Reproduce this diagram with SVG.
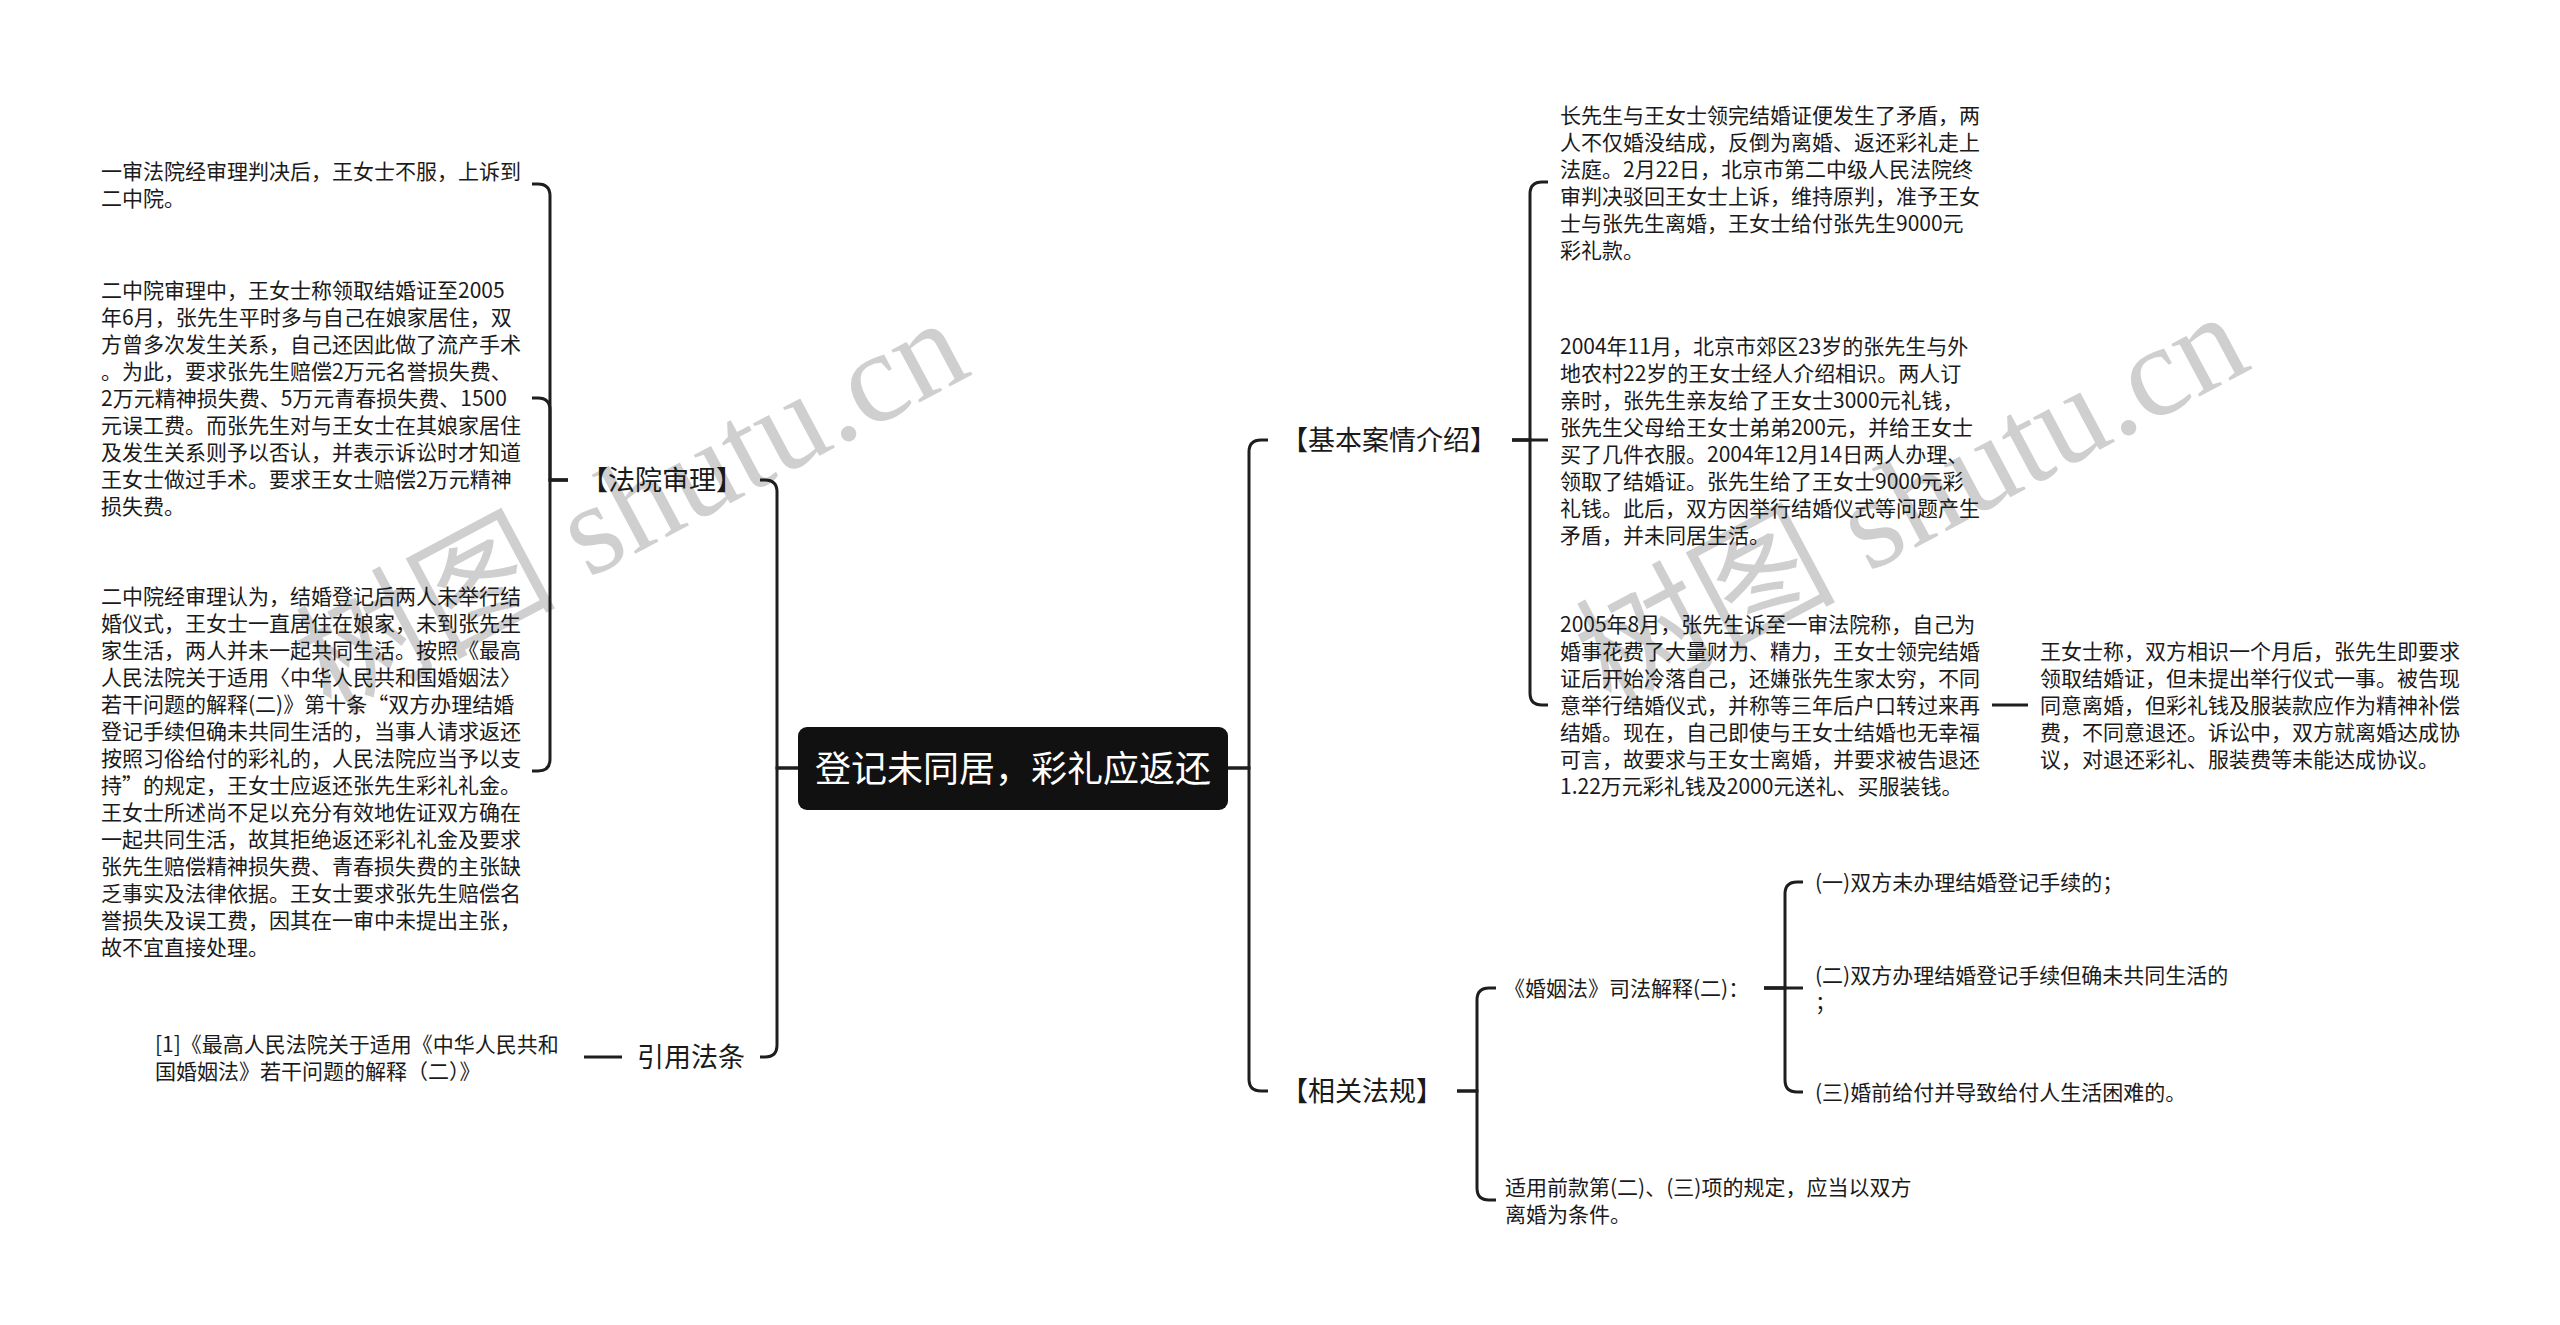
<svg xmlns="http://www.w3.org/2000/svg" width="2560" height="1325" viewBox="0 0 2560 1325">
<style>
.t{font-family:"Noto Sans CJK SC","Microsoft YaHei",sans-serif;font-size:21px;fill:#1a1a1a}
.b{font-family:"Noto Sans CJK SC","Microsoft YaHei",sans-serif;font-size:27px;fill:#1a1a1a;text-anchor:middle}
.c{font-family:"Noto Sans CJK SC","Microsoft YaHei",sans-serif;font-size:36px;fill:#ffffff;text-anchor:middle}
.wm{font-family:"Liberation Serif","Noto Sans CJK SC",serif;font-size:130px;fill:#cfcfcf}
.ln{fill:none;stroke:#1e1e1e;stroke-width:3}
</style>
<rect width="2560" height="1325" fill="#ffffff"/>
<g id="watermarks">
<text class="wm" transform="translate(330,716) rotate(-28)">树图 shutu.cn</text>
<text class="wm" transform="translate(1610,710) rotate(-28)">树图 shutu.cn</text>
</g>
<g id="connectors">
<path class="ln" d="M798,768 H777 V492 Q777,480 765,480 H760"/>
<path class="ln" d="M798,768 H777 V1045 Q777,1057 765,1057 H760"/>
<path class="ln" d="M1228,768 H1249 V452 Q1249,440 1261,440 H1268"/>
<path class="ln" d="M1228,768 H1249 V1079 Q1249,1091 1261,1091 H1268"/>
<path class="ln" d="M568,480 H550 V196 Q550,184 538,184 H532"/>
<path class="ln" d="M568,480 H550 V410 Q550,398 538,398 H532"/>
<path class="ln" d="M568,480 H550 V759 Q550,771 538,771 H532"/>
<path class="ln" d="M622,1057 H584"/>
<path class="ln" d="M1512,440 H1530 V194 Q1530,182 1542,182 H1548"/>
<path class="ln" d="M1512,440 H1548"/>
<path class="ln" d="M1512,440 H1530 V693 Q1530,705 1542,705 H1548"/>
<path class="ln" d="M1992,705 H2028"/>
<path class="ln" d="M1457,1091 H1477 V1000 Q1477,988 1489,988 H1496"/>
<path class="ln" d="M1457,1091 H1477 V1188 Q1477,1200 1489,1200 H1496"/>
<path class="ln" d="M1764,988 H1785 V894 Q1785,882 1797,882 H1803"/>
<path class="ln" d="M1764,988 H1803"/>
<path class="ln" d="M1764,988 H1785 V1080 Q1785,1092 1797,1092 H1803"/>
</g>
<g id="root">
<rect x="798" y="727" width="430" height="83" rx="9" fill="#111111"/>
<text class="c" x="1013" y="782">登记未同居，彩礼应返还</text>
</g>
<g id="n-fayuan"><text class="b" x="662" y="490">【法院审理】</text></g>
<g id="n-yinyong"><text class="b" x="691" y="1067">引用法条</text></g>
<g id="n-jiben"><text class="b" x="1389" y="450">【基本案情介绍】</text></g>
<g id="n-xiangguan"><text class="b" x="1362" y="1101">【相关法规】</text></g>
<g id="n-l1"><text class="t"><tspan x="101" y="178.5">一审法院经审理判决后，王女士不服，上诉到</tspan><tspan x="101" y="205.5">二中院。</tspan></text></g>
<g id="n-l2"><text class="t">
<tspan x="101" y="298">二中院审理中，王女士称领取结婚证至2005</tspan>
<tspan x="101" y="325">年6月，张先生平时多与自己在娘家居住，双</tspan>
<tspan x="101" y="352">方曾多次发生关系，自己还因此做了流产手术</tspan>
<tspan x="101" y="379">。为此，要求张先生赔偿2万元名誉损失费、</tspan>
<tspan x="101" y="406">2万元精神损失费、5万元青春损失费、1500</tspan>
<tspan x="101" y="433">元误工费。而张先生对与王女士在其娘家居住</tspan>
<tspan x="101" y="460">及发生关系则予以否认，并表示诉讼时才知道</tspan>
<tspan x="101" y="487">王女士做过手术。要求王女士赔偿2万元精神</tspan>
<tspan x="101" y="514">损失费。</tspan>
</text></g>
<g id="n-l3"><text class="t">
<tspan x="101" y="604">二中院经审理认为，结婚登记后两人未举行结</tspan>
<tspan x="101" y="631">婚仪式，王女士一直居住在娘家，未到张先生</tspan>
<tspan x="101" y="658">家生活，两人并未一起共同生活。按照《最高</tspan>
<tspan x="101" y="685">人民法院关于适用〈中华人民共和国婚姻法〉</tspan>
<tspan x="101" y="712">若干问题的解释(二)》第十条“双方办理结婚</tspan>
<tspan x="101" y="739">登记手续但确未共同生活的，当事人请求返还</tspan>
<tspan x="101" y="766">按照习俗给付的彩礼的，人民法院应当予以支</tspan>
<tspan x="101" y="793">持”的规定，王女士应返还张先生彩礼礼金。</tspan>
<tspan x="101" y="820">王女士所述尚不足以充分有效地佐证双方确在</tspan>
<tspan x="101" y="847">一起共同生活，故其拒绝返还彩礼礼金及要求</tspan>
<tspan x="101" y="874">张先生赔偿精神损失费、青春损失费的主张缺</tspan>
<tspan x="101" y="901">乏事实及法律依据。王女士要求张先生赔偿名</tspan>
<tspan x="101" y="928">誉损失及误工费，因其在一审中未提出主张，</tspan>
<tspan x="101" y="955">故不宜直接处理。</tspan>
</text></g>
<g id="n-l4"><text class="t"><tspan x="155" y="1051.5">[1]《最高人民法院关于适用《中华人民共和</tspan><tspan x="155" y="1078.5">国婚姻法》若干问题的解释（二）》</tspan></text></g>
<g id="n-r1"><text class="t">
<tspan x="1560" y="122.5">长先生与王女士领完结婚证便发生了矛盾，两</tspan>
<tspan x="1560" y="149.5">人不仅婚没结成，反倒为离婚、返还彩礼走上</tspan>
<tspan x="1560" y="176.5">法庭。2月22日，北京市第二中级人民法院终</tspan>
<tspan x="1560" y="203.5">审判决驳回王女士上诉，维持原判，准予王女</tspan>
<tspan x="1560" y="230.5">士与张先生离婚，王女士给付张先生9000元</tspan>
<tspan x="1560" y="257.5">彩礼款。</tspan>
</text></g>
<g id="n-r2"><text class="t">
<tspan x="1560" y="353.5">2004年11月，北京市郊区23岁的张先生与外</tspan>
<tspan x="1560" y="380.5">地农村22岁的王女士经人介绍相识。两人订</tspan>
<tspan x="1560" y="407.5">亲时，张先生亲友给了王女士3000元礼钱，</tspan>
<tspan x="1560" y="434.5">张先生父母给王女士弟弟200元，并给王女士</tspan>
<tspan x="1560" y="461.5">买了几件衣服。2004年12月14日两人办理、</tspan>
<tspan x="1560" y="488.5">领取了结婚证。张先生给了王女士9000元彩</tspan>
<tspan x="1560" y="515.5">礼钱。此后，双方因举行结婚仪式等问题产生</tspan>
<tspan x="1560" y="542.5">矛盾，并未同居生活。</tspan>
</text></g>
<g id="n-r3"><text class="t">
<tspan x="1560" y="632">2005年8月，张先生诉至一审法院称，自己为</tspan>
<tspan x="1560" y="659">婚事花费了大量财力、精力，王女士领完结婚</tspan>
<tspan x="1560" y="686">证后开始冷落自己，还嫌张先生家太穷，不同</tspan>
<tspan x="1560" y="713">意举行结婚仪式，并称等三年后户口转过来再</tspan>
<tspan x="1560" y="740">结婚。现在，自己即使与王女士结婚也无幸福</tspan>
<tspan x="1560" y="767">可言，故要求与王女士离婚，并要求被告退还</tspan>
<tspan x="1560" y="794">1.22万元彩礼钱及2000元送礼、买服装钱。</tspan>
</text></g>
<g id="n-r4"><text class="t">
<tspan x="2040" y="659">王女士称，双方相识一个月后，张先生即要求</tspan>
<tspan x="2040" y="686">领取结婚证，但未提出举行仪式一事。被告现</tspan>
<tspan x="2040" y="713">同意离婚，但彩礼钱及服装款应作为精神补偿</tspan>
<tspan x="2040" y="740">费，不同意退还。诉讼中，双方就离婚达成协</tspan>
<tspan x="2040" y="767">议，对退还彩礼、服装费等未能达成协议。</tspan>
</text></g>
<g id="n-hyf"><text class="t" x="1504" y="996">《婚姻法》司法解释(二)：</text></g>
<g id="n-i1"><text class="t" x="1815" y="890">(一)双方未办理结婚登记手续的；</text></g>
<g id="n-i2"><text class="t"><tspan x="1815" y="982.5">(二)双方办理结婚登记手续但确未共同生活的</tspan><tspan x="1815" y="1009.5">；</tspan></text></g>
<g id="n-i3"><text class="t" x="1815" y="1100">(三)婚前给付并导致给付人生活困难的。</text></g>
<g id="n-sy"><text class="t"><tspan x="1505" y="1194.5">适用前款第(二)、(三)项的规定，应当以双方</tspan><tspan x="1505" y="1221.5">离婚为条件。</tspan></text></g>
</svg>
